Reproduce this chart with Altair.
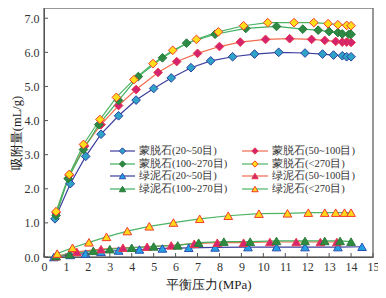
import altair as alt
import pandas as pd

# ---------------- data ----------------
series = ["蒙脱石(20~50目)", "蒙脱石(50~100目)", "蒙脱石(100~270目)", "蒙脱石(<270目)",
          "绿泥石(20~50目)", "绿泥石(50~100目)", "绿泥石(100~270目)", "绿泥石(<270目)"]

m1_x = [0.5, 1.2, 1.9, 2.6, 3.4, 4.2, 5.0, 5.8, 6.7, 7.6, 8.6, 9.6, 10.7, 11.9, 12.7, 13.2, 13.6, 13.8, 14.0]
m1_y = [1.12, 2.15, 2.95, 3.6, 4.14, 4.6, 4.94, 5.25, 5.55, 5.75, 5.87, 5.95, 6.0, 5.98, 5.95, 5.92, 5.9, 5.87, 5.87]

m2_x = [0.55, 1.15, 1.85, 2.6, 3.4, 4.2, 5.2, 6.05, 7.0, 8.0, 8.95, 10.1, 11.2, 12.2, 12.8, 13.3, 13.6, 13.8, 14.0]
m2_y = [1.3, 2.4, 3.25, 3.88, 4.44, 4.91, 5.41, 5.73, 5.97, 6.17, 6.3, 6.38, 6.4, 6.38, 6.35, 6.32, 6.3, 6.3, 6.29]

m3_x = [0.55, 1.1, 1.8, 2.5, 3.4, 4.3, 5.4, 6.5, 7.8, 9.2, 10.6, 11.8, 12.5, 13.0, 13.4, 13.6, 13.9, 14.0]
m3_y = [1.22, 2.3, 3.15, 3.88, 4.59, 5.29, 5.84, 6.27, 6.53, 6.7, 6.76, 6.68, 6.65, 6.61, 6.58, 6.54, 6.53, 6.53]

m4_x = [0.55, 1.15, 1.8, 2.55, 3.3, 4.1, 4.97, 5.87, 6.95, 7.95, 9.1, 10.2, 11.4, 12.3, 12.95, 13.4, 13.8, 14.0]
m4_y = [1.33, 2.42, 3.3, 4.03, 4.68, 5.2, 5.67, 6.06, 6.38, 6.6, 6.78, 6.87, 6.87, 6.87, 6.84, 6.81, 6.79, 6.78]

c1_x = [0.45, 1.2, 1.9, 2.6, 3.4, 4.35, 5.4, 6.6, 7.8, 9.3, 10.6, 11.9, 13.4, 14.5]
c1_y = [0.0, 0.06, 0.1, 0.15, 0.19, 0.22, 0.25, 0.27, 0.28, 0.29, 0.29, 0.29, 0.29, 0.3]

c2_x = [0.55, 1.5, 2.6, 3.6, 4.7, 5.8, 6.85, 7.9, 9.1, 10.3, 11.5, 12.6, 13.35]
c2_y = [0.02, 0.15, 0.23, 0.27, 0.3, 0.34, 0.39, 0.42, 0.42, 0.44, 0.44, 0.44, 0.44]

c3_x = [0.55, 1.15, 2.25, 3.0, 4.0, 5.0, 6.1, 7.05, 8.2, 9.4, 10.6, 11.9, 12.8, 13.5, 14.0]
c3_y = [0.03, 0.08, 0.18, 0.23, 0.27, 0.31, 0.34, 0.42, 0.45, 0.45, 0.47, 0.47, 0.47, 0.47, 0.45]

c4_x = [0.6, 1.3, 2.05, 2.85, 3.8, 4.8, 5.9, 7.1, 8.4, 9.8, 11.1, 12.05, 12.8, 13.3, 13.7, 14.0]
c4_y = [0.1, 0.27, 0.43, 0.59, 0.76, 0.9, 1.01, 1.12, 1.21, 1.27, 1.28, 1.3, 1.3, 1.3, 1.3, 1.3]

xs = [m1_x, m2_x, m3_x, m4_x, c1_x, c2_x, c3_x, c4_x]
ys = [m1_y, m2_y, m3_y, m4_y, c1_y, c2_y, c3_y, c4_y]

x_ticks = list(range(0, 16))
y_ticks = [0, 1, 2, 3, 4, 5, 6, 7]

# ---------------- styles ----------------
line_colors = ["#3d3f9e", "#f26b4f", "#3fb060", "#4cb565", "#3d3f9e", "#f26b4f", "#3fb060", "#4cb565"]
fill_colors = ["#2fa3c7", "#d4236f", "#2d8a45", "#ffdd1a", "#22a0e6", "#d6246e", "#2e8c40", "#ffd81a"]
edge_colors = ["#2c3fa0", "#e8364a", "#2a7a3a", "#f03c2c", "#2c4fb0", "#e83a4a", "#2a7a3a", "#f03c2c"]
shapes = ["diamond"] * 4 + ["triangle-up"] * 4

FONT = "Liberation Serif"
W, H = 329, 249

rows = []
for s, xx, yy in zip(series, xs, ys):
    for a, b in zip(xx, yy):
        rows.append({"series": s, "p": a, "q": b})
df = pd.DataFrame(rows)

xscale = alt.Scale(domain=[0, 15], nice=False, zero=False)
yscale = alt.Scale(domain=[0, 7.3], nice=False, zero=False)

ax_common = dict(grid=False, tickSize=0, domainColor="#555", labelOverlap=False,
                 labelFlush=False, labelFont=FONT, titleFont=FONT, labelFontSize=12,
                 labelColor="#333", titleColor="#222", titleFontWeight="normal")
axX = alt.Axis(title="平衡压力(MPa)", values=x_ticks, labelPadding=4, titlePadding=6,
               titleFontSize=13, **ax_common)
axY = alt.Axis(title="吸附量(mL/g)", values=y_ticks, format=".1f", labelPadding=5,
               titlePadding=1, titleFontSize=12.5, **ax_common)

color_sc = alt.Scale(domain=series, range=line_colors)
fill_sc = alt.Scale(domain=series, range=fill_colors)
stroke_sc = alt.Scale(domain=series, range=edge_colors)
shape_sc = alt.Scale(domain=series, range=shapes)

base = alt.Chart(df)

lines = base.mark_line(strokeWidth=1.2, clip=True).encode(
    x=alt.X("p:Q", scale=xscale, axis=axX),
    y=alt.Y("q:Q", scale=yscale, axis=axY),
    color=alt.Color("series:N", scale=color_sc, legend=None),
    detail="series:N",
)

points = base.mark_point(filled=True, size=75, strokeWidth=1, opacity=1).encode(
    x=alt.X("p:Q", scale=xscale, axis=axX),
    y=alt.Y("q:Q", scale=yscale, axis=axY),
    fill=alt.Fill("series:N", scale=fill_sc, legend=None),
    stroke=alt.Stroke("series:N", scale=stroke_sc, legend=None),
    shape=alt.Shape("series:N", scale=shape_sc, legend=None),
)

# inward ticks
xt = alt.Chart(pd.DataFrame({"t": x_ticks})).mark_rule(color="#555", strokeWidth=1).encode(
    x=alt.X("t:Q", scale=xscale, axis=axX), y=alt.value(H), y2=alt.value(H - 4))
yt = alt.Chart(pd.DataFrame({"t": y_ticks})).mark_rule(color="#555", strokeWidth=1).encode(
    y=alt.Y("t:Q", scale=yscale, axis=axY), x=alt.value(0), x2=alt.value(4))

# custom legend (two columns, four rows)
leg_rows = []
row_y = [143, 156, 168, 181]
col_line = [(66, 91), (198, 224)]
for i, s in enumerate(series):
    r, c = i // 2, i % 2
    x0, x1 = col_line[c]
    leg_rows.append({"series": s, "lx0": x0, "lx1": x1, "mx": (x0 + x1) / 2,
                     "tx": x1 + 4, "ly": row_y[r]})
leg = pd.DataFrame(leg_rows)
lbase = alt.Chart(leg)
leg_lines = lbase.mark_rule(strokeWidth=1.2).encode(
    x=alt.X("lx0:Q", scale=None), x2="lx1:Q", y=alt.Y("ly:Q", scale=None),
    color=alt.Color("series:N", scale=color_sc, legend=None))
leg_pts = lbase.mark_point(filled=True, size=40, strokeWidth=1, opacity=1).encode(
    x=alt.X("mx:Q", scale=None), y=alt.Y("ly:Q", scale=None),
    fill=alt.Fill("series:N", scale=fill_sc, legend=None),
    stroke=alt.Stroke("series:N", scale=stroke_sc, legend=None),
    shape=alt.Shape("series:N", scale=shape_sc, legend=None))
leg_txt = lbase.mark_text(align="left", baseline="middle", font=FONT, fontSize=10.5,
                          color="#333").encode(
    x=alt.X("tx:Q", scale=None), y=alt.Y("ly:Q", scale=None), text="series:N")

chart = alt.layer(lines, points, xt, yt, leg_lines, leg_pts, leg_txt).properties(
    width=W, height=H,
    autosize=alt.AutoSizeParams(type="none"),
    padding={"left": 36, "top": 0, "right": 5, "bottom": 40},
).configure_view(stroke="#777", strokeWidth=1.5)

chart.save("out.html", embed_options={"renderer": "svg", "actions": False})
